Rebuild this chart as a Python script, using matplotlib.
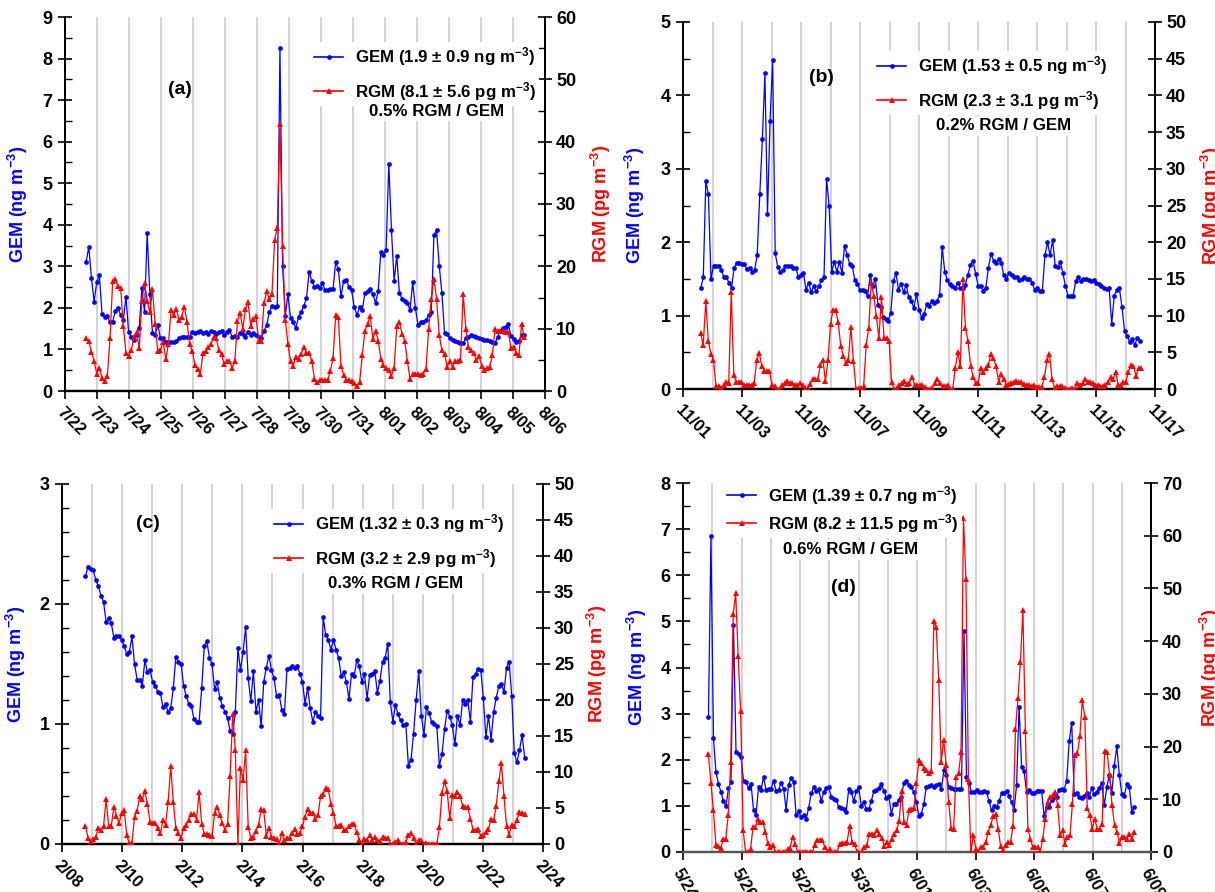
import numpy as np
import matplotlib
matplotlib.use('Agg')
import matplotlib.pyplot as plt
from matplotlib.ticker import MultipleLocator
from matplotlib.lines import Line2D

plt.rcParams['font.family'] = ['Liberation Sans', 'DejaVu Sans']
plt.rcParams['font.weight'] = 'bold'
plt.rcParams['mathtext.fontset'] = 'custom'
plt.rcParams['mathtext.rm'] = 'Liberation Sans:bold'
plt.rcParams['mathtext.bf'] = 'Liberation Sans:bold'
plt.rcParams['mathtext.default'] = 'rm'

# ---------------- data ----------------
# panel (a): 7/22 - 8/06
xlabels_a = ['7/22', '7/23', '7/24', '7/25', '7/26', '7/27', '7/28', '7/29', '7/30', '7/31',
             '8/01', '8/02', '8/03', '8/04', '8/05', '8/06']
span_a = (0.66, 14.35)
gem_a = [3.1, 3.47, 2.73, 2.15, 2.62, 2.78, 1.85, 1.78, 1.8, 1.65,
         1.67, 1.93, 2.0, 1.83, 1.7, 2.27, 1.42, 1.3, 1.22, 1.35,
         1.52, 2.47, 1.9, 3.8, 2.33, 1.4, 1.35, 1.58, 1.27, 1.27,
         1.17, 1.17, 1.17, 1.17, 1.2, 1.27, 1.29, 1.3, 1.3, 1.3,
         1.42, 1.4, 1.42, 1.45, 1.4, 1.42, 1.38, 1.45, 1.42, 1.38,
         1.42, 1.45, 1.35, 1.42, 1.47, 1.3, 1.33, 1.3, 1.4, 1.37,
         1.3, 1.42, 1.35, 1.4, 1.35, 1.3, 1.27, 1.45, 1.58, 1.9,
         2.05, 2.02, 2.05, 8.25, 3.02, 1.8, 2.33, 1.75, 1.65, 1.52,
         1.78, 1.9, 2.05, 2.23, 2.87, 2.65, 2.5, 2.52, 2.48, 2.6,
         2.42, 2.42, 2.45, 2.45, 3.1, 2.93, 2.28, 2.65, 2.68, 2.5,
         2.42, 2.02, 1.83, 2.02, 1.95, 2.35, 2.4, 2.45, 2.33, 2.12,
         2.4, 3.35, 3.27, 3.4, 5.47, 3.88, 2.65, 3.25, 2.35, 2.22,
         2.17, 2.12, 1.95, 2.62, 2.0, 1.6, 1.65, 1.67, 1.7, 1.82,
         1.9, 3.75, 3.87, 3.02, 2.35, 1.4, 1.37, 1.27, 1.22, 1.2,
         1.17, 1.15, 1.15, 1.27, 1.3, 1.35, 1.32, 1.3, 1.28, 1.25,
         1.22, 1.22, 1.2, 1.18, 1.15, 1.3, 1.45, 1.52, 1.55, 1.62,
         1.32, 1.25, 1.17, 1.2, 1.35, 1.35]
rgm_a = [8.5, 8.0, 6.3, 4.8, 2.8, 3.7, 2.1, 1.6, 2.4, 8.5,
         17.6, 17.9, 16.8, 16.6, 10.5, 6.1, 5.6, 6.5, 8.7, 9.4,
         6.9, 14.5, 17.4, 14.5, 12.6, 16.3, 10.7, 6.4, 6.5, 7.9,
         5.1, 7.5, 13.0, 12.2, 13.2, 11.4, 11.9, 13.5, 11.1, 7.5,
         6.4, 4.2, 3.6, 2.7, 6.1, 6.4, 7.0, 7.5, 8.7, 8.5,
         6.5, 5.9, 4.3, 4.8, 4.8, 3.7, 4.8, 11.2, 12.5, 10.0,
         13.1, 14.2, 10.5, 11.5, 12.0, 8.1, 8.1, 14.1, 16.0, 14.7,
         15.6, 24.3, 26.1, 42.9, 23.2, 11.4, 7.6, 4.8, 4.0, 5.5,
         5.2, 6.0, 7.1, 6.1, 6.1, 4.8, 2.0, 1.4, 1.7, 1.8,
         1.8, 1.8, 3.2, 5.3, 12.2, 11.8, 4.0, 2.6, 1.8, 1.8,
         1.6, 1.3, 0.8, 1.4, 5.7, 9.6, 10.8, 12.0, 8.4, 9.7,
         8.1, 5.2, 4.1, 3.7, 3.3, 2.4, 3.7, 10.4, 11.0, 9.2,
         8.1, 4.8, 1.9, 2.8, 2.8, 2.8, 2.6, 2.8, 3.5, 9.9,
         14.7, 18.0, 14.7, 9.0, 6.5, 5.9, 3.9, 4.8, 3.9, 4.8,
         4.8, 4.9, 15.6, 10.0, 7.1, 6.5, 6.1, 4.9, 5.6, 4.0,
         3.3, 3.7, 3.9, 5.7, 9.9, 9.6, 9.6, 9.6, 9.5, 9.4,
         6.9, 7.1, 6.1, 5.7, 10.7, 8.7]

# panel (b): 11/01 - 11/17
xlabels_b = ['11/01', '11/03', '11/05', '11/07', '11/09', '11/11', '11/13', '11/15', '11/17']
span_b_gem = (0.6, 15.49)
span_b_rgm = (0.6, 15.53)
gem_b = [1.37, 1.52, 2.83, 2.65, 1.5, 1.68, 1.68, 1.68, 1.62, 1.53,
         1.52, 1.45, 1.38, 1.65, 1.72, 1.72, 1.7, 1.7, 1.63, 1.65,
         1.6, 1.62, 1.83, 2.65, 3.4, 4.3, 2.38, 3.65, 4.48, 1.85,
         1.66, 1.6, 1.62, 1.67, 1.67, 1.68, 1.65, 1.65, 1.53, 1.55,
         1.58, 1.35, 1.45, 1.32, 1.4, 1.33, 1.4, 1.48, 1.52, 2.86,
         2.5, 1.6, 1.73, 1.6, 1.73, 1.58, 1.95, 1.83, 1.7, 1.68,
         1.48, 1.43, 1.35, 1.35, 1.33, 1.27, 1.55, 1.4, 1.5, 1.15,
         1.12, 0.98, 0.96, 0.93, 1.04, 1.47, 1.58, 1.35, 1.43, 1.32,
         1.42, 1.25, 1.2, 1.1, 1.3, 1.08, 0.97, 1.02, 1.16, 1.13,
         1.2, 1.17, 1.2, 1.28, 1.94, 1.6, 1.48, 1.43, 1.4, 1.37,
         1.45, 1.37, 1.37, 1.42, 1.55, 1.69, 1.75, 1.57, 1.41, 1.4,
         1.34, 1.38, 1.65, 1.84, 1.75, 1.72, 1.77, 1.72, 1.55, 1.5,
         1.58, 1.55, 1.53, 1.53, 1.48, 1.5, 1.52, 1.5, 1.5, 1.45,
         1.35, 1.37, 1.33, 1.33, 1.82, 2.0, 1.82, 2.03, 1.68, 1.66,
         1.73, 1.58, 1.4, 1.27, 1.27, 1.27, 1.47, 1.52, 1.47, 1.5,
         1.5, 1.48, 1.47, 1.48, 1.45, 1.43, 1.4, 1.38, 1.36, 1.37,
         0.89, 1.27, 1.35, 1.37, 1.12, 0.79, 0.72, 0.64, 0.68, 0.6,
         0.7, 0.66]
rgm_b = [7.6, 6.0, 12.0, 6.5, 4.8, 4.0, 0.4, 0.4, 0.1, 0.6,
         1.0, 0.8, 13.2, 1.9, 1.0, 1.0, 1.0, 0.6, 0.6, 0.6,
         0.6, 0.8, 3.9, 4.9, 3.1, 2.5, 2.5, 2.5, 0.5, 0.4,
         0.0, 0.0, 0.5, 0.8, 1.1, 0.8, 0.8, 0.6, 0.5, 0.8,
         0.6, 0.1, 0.1, 0.7, 1.3, 1.3, 1.3, 3.3, 4.0, 1.1,
         3.9, 8.9, 10.8, 10.8, 9.1, 5.9, 4.5, 3.6, 4.0, 8.4,
         3.8, 0.0, 0.2, 0.1, 0.4, 6.0, 8.3, 14.5, 12.7, 9.9,
         7.0, 12.5, 7.0, 7.0, 6.6, 0.9, 0.0, 0.1, 0.6, 0.8,
         1.1, 0.7, 0.8, 1.7, 0.6, 0.5, 0.6, 0.5, 0.3, 0.0,
         0.0, 0.2, 0.8, 1.4, 0.8, 0.4, 0.4, 0.6, 0.0, 0.0,
         2.9, 5.0, 3.1, 15.0, 8.3, 6.5, 3.2, 1.7, 0.8, 0.8,
         2.9, 2.3, 2.9, 3.3, 4.8, 4.2, 3.1, 1.0, 2.0, 1.3,
         0.6, 0.7, 0.8, 1.0, 1.1, 1.0, 0.9, 0.7, 0.6, 0.6,
         0.4, 0.5, 0.3, 0.3, 0.3, 1.6, 3.9, 4.8, 1.4, 0.1,
         0.4, 0.4, 0.4, 0.2, 0.0, 0.0, 0.1, 0.0, 0.8, 0.6,
         0.8, 1.3, 1.0, 1.0, 0.8, 0.5, 0.6, 0.4, 0.4, 0.5,
         0.9, 1.7, 1.3, 2.3, 0.5, 0.6, 0.9, 1.0, 2.3, 3.3,
         3.1, 1.8, 2.9, 2.8]

# panel (c): 2/08 - 2/24
xlabels_c = ['2/08', '2/10', '2/12', '2/14', '2/16', '2/18', '2/20', '2/22', '2/24']
span_c = (0.78, 15.39)
gem_c = [2.23, 2.31, 2.29, 2.28, 2.2, 2.15, 2.07, 2.02, 1.85, 1.88,
         1.84, 1.72, 1.73, 1.73, 1.7, 1.65, 1.58, 1.6, 1.73, 1.5,
         1.37, 1.37, 1.32, 1.53, 1.43, 1.45, 1.35, 1.32, 1.27, 1.26,
         1.14, 1.17, 1.1, 1.13, 1.3, 1.56, 1.52, 1.5, 1.32, 1.23,
         1.17, 1.15, 1.04, 1.02, 1.02, 1.3, 1.65, 1.69, 1.55, 1.5,
         1.29, 1.35, 1.22, 1.15, 1.1, 1.05, 0.94, 0.92, 1.1, 1.63,
         1.45, 1.6, 1.81, 1.38, 1.19, 1.44, 1.1, 1.2, 0.98, 1.35,
         1.47, 1.57, 1.45, 1.38, 1.23, 1.24, 1.12, 1.08, 1.46, 1.47,
         1.48, 1.47, 1.48, 1.42, 1.35, 1.17, 1.3, 1.13, 1.02, 1.1,
         1.07, 1.05, 1.89, 1.74, 1.7, 1.62, 1.7, 1.62, 1.55, 1.4,
         1.43, 1.35, 1.21, 1.42, 1.4, 1.53, 1.48, 1.35, 1.42, 1.21,
         1.41, 1.42, 1.44, 1.26, 1.36, 1.52, 1.55, 1.67, 1.18, 1.02,
         1.16, 1.08, 1.03, 0.99, 1.0, 0.65, 0.7, 0.92, 1.2, 1.44,
         1.07, 0.91, 1.14, 1.09, 1.02, 1.0, 0.98, 0.65, 0.75, 0.96,
         1.11, 1.06, 0.99, 0.83, 1.07, 0.99, 1.2, 1.17, 1.2, 1.02,
         1.39, 1.42, 1.46, 1.45, 1.22, 0.89, 1.07, 0.87, 1.1, 1.22,
         1.32, 1.33, 1.27, 1.47, 1.52, 1.23, 0.76, 0.68, 0.78, 0.91,
         0.72]
rgm_c = [2.5, 0.9, 0.4, 0.7, 1.0, 2.2, 1.9, 2.5, 6.2, 2.5,
         2.5, 5.2, 3.9, 2.9, 4.3, 4.7, 1.2, 0.1, 0.2, 3.8,
         4.6, 6.6, 6.2, 7.3, 5.5, 3.1, 2.9, 2.9, 2.2, 1.5,
         3.3, 2.7, 5.8, 10.8, 5.8, 2.2, 1.5, 0.8, 2.2, 2.7,
         3.3, 4.2, 4.2, 3.4, 7.2, 2.8, 1.4, 1.4, 1.3, 1.1,
         4.3, 5.1, 4.0, 2.9, 2.0, 2.8, 9.5, 18.1, 13.1, 0.0,
         10.6, 8.9, 13.0, 2.3, 0.9, 1.0, 1.8, 2.7, 4.8, 4.7,
         1.1, 2.2, 1.0, 0.9, 0.7, 0.0, 1.5, 0.5, 0.8, 0.9,
         1.5, 2.1, 1.4, 1.5, 2.5, 3.8, 4.9, 4.3, 4.3, 3.5,
         4.0, 6.6, 6.9, 7.8, 7.6, 5.5, 4.3, 2.5, 2.5, 2.7,
         2.0, 2.0, 2.5, 2.8, 2.8, 1.6, 0.6, 0.0, 0.7, 0.6,
         1.2, 0.6, 1.0, 0.6, 0.4, 1.0, 0.9, 0.9, 0.0, 0.0,
         0.3, 0.5, 0.0, 0.0, 0.3, 1.2, 1.5, 0.9, 0.0, 0.6,
         0.5, 0.0, 0.2, 0.0, 0.0, 0.0, 0.0, 2.3, 7.1, 8.7,
         7.3, 3.6, 6.8, 6.6, 7.2, 6.6, 5.3, 5.2, 5.1, 3.5,
         2.0, 2.0, 2.1, 1.1, 1.3, 1.7, 2.1, 3.5, 3.3, 5.3,
         8.7, 11.2, 6.6, 2.5, 1.3, 2.7, 2.5, 3.4, 4.4, 4.3,
         4.2]

# panel (d): 5/24 - 6/09
xlabels_d = ['5/24', '5/26', '5/28', '5/30', '6/01', '6/03', '6/05', '6/07', '6/09']
span_d = (0.87, 15.43)
gem_d = [2.92, 6.85, 2.47, 1.73, 1.48, 1.3, 1.1, 0.99, 1.38, 1.52,
         4.93, 2.17, 2.12, 2.05, 1.55, 1.52, 1.39, 1.48, 0.9, 0.8,
         1.42, 1.35, 1.62, 1.35, 1.37, 1.37, 1.55, 1.32, 1.35, 1.5,
         1.37, 0.92, 1.46, 1.6, 1.52, 0.8, 0.88, 0.75, 0.8, 0.72,
         0.95, 1.27, 1.4, 1.32, 1.37, 1.1, 1.3, 1.38, 1.4, 1.2,
         1.15, 1.13, 0.97, 0.95, 0.93, 0.87, 1.37, 1.3, 1.1, 1.32,
         1.4, 1.0, 1.08, 0.93, 0.93, 1.1, 1.32, 1.35, 1.38, 1.48,
         1.33, 1.18, 1.22, 0.83, 1.03, 1.05, 1.12, 1.2, 1.5, 1.53,
         1.45, 1.4, 1.3, 1.08, 0.78, 0.83, 1.05, 1.42, 1.43, 1.45,
         1.42, 1.45, 1.47, 1.37, 1.78, 1.67, 1.4, 1.38, 1.37, 1.37,
         1.37, 1.37, 4.8, 1.62, 1.5, 1.3, 1.3, 1.35, 1.3, 1.3,
         1.32, 1.3, 1.1, 0.9, 1.0, 0.98, 1.1, 1.27, 1.28, 1.33,
         1.22, 1.08, 0.9, 1.45, 3.15, 1.85, 1.75, 1.3, 1.35, 1.27,
         1.27, 1.33, 1.33, 1.32, 0.78, 0.98, 0.97, 1.12, 1.2, 1.2,
         1.35, 1.37, 1.35, 1.55, 2.4, 2.8, 1.25, 1.27, 1.2, 1.17,
         1.22, 1.27, 1.2, 1.38, 1.25, 1.3, 1.38, 1.5, 1.02, 1.4,
         1.67, 1.28, 1.87, 2.3, 1.68, 1.25, 1.22, 1.47, 1.4, 0.87,
         0.98]
rgm_d = [18.5, 13.0, 7.9, 1.4, 1.1, 0.8, 2.5, 2.5, 7.1, 17.1,
         45.1, 49.1, 37.2, 26.7, 4.1, 0.0, 0.0, 0.6, 4.7, 4.7,
         6.3, 5.6, 5.6, 3.8, 1.7, 0.9, 1.4, 0.0, 0.0, 0.0,
         0.0, 0.0, 0.6, 0.8, 2.8, 1.6, 0.0, 0.0, 0.0, 0.0,
         0.0, 0.0, 0.0, 1.4, 2.3, 2.3, 2.2, 0.9, 0.0, 0.6,
         0.0, 0.0, 0.0, 1.6, 1.7, 1.7, 1.9, 4.9, 1.9, 1.6,
         0.0, 0.0, 0.0, 0.9, 1.4, 3.5, 3.5, 3.3, 4.1, 3.5,
         2.7, 1.1, 1.9, 1.3, 2.5, 3.5, 4.2, 5.8, 11.5, 5.6,
         5.2, 7.9, 8.2, 8.4, 13.0, 17.4, 16.8, 16.0, 15.5, 15.0,
         15.4, 43.9, 42.6, 32.6, 17.1, 21.3, 16.5, 9.5, 4.6, 4.4,
         14.2, 14.9, 18.9, 63.3, 51.7, 13.8, 0.0, 3.2, 0.6, 0.0,
         0.9, 0.9, 1.9, 3.8, 5.1, 6.8, 7.3, 4.4, 1.1, 0.3,
         1.4, 1.9, 1.9, 4.9, 23.3, 29.2, 36.1, 46.0, 22.9, 4.4,
         2.5, 0.9, 0.9, 0.9, 0.0, 2.5, 6.2, 9.5, 10.4, 10.8,
         11.4, 9.0, 3.2, 4.1, 1.6, 2.8, 3.2, 9.2, 18.4, 18.7,
         22.0, 28.8, 25.6, 8.4, 7.0, 4.4, 6.3, 4.4, 4.4, 5.4,
         19.1, 19.0, 14.6, 8.9, 5.1, 3.8, 1.7, 2.8, 2.8, 2.5,
         3.5, 2.5, 3.8]

legend_gem = ['GEM (1.9 ± 0.9 ng m$^{-3}$)', 'GEM (1.53 ± 0.5 ng m$^{-3}$)',
              'GEM (1.32 ± 0.3 ng m$^{-3}$)', 'GEM (1.39 ± 0.7 ng m$^{-3}$)']
legend_rgm = ['RGM (8.1 ± 5.6 pg m$^{-3}$)', 'RGM (2.3 ± 3.1 pg m$^{-3}$)',
              'RGM (3.2 ± 2.9 pg m$^{-3}$)', 'RGM (8.2 ± 11.5 pg m$^{-3}$)']
ratios = ['0.5% RGM / GEM', '0.2% RGM / GEM', '0.3% RGM / GEM', '0.6% RGM / GEM']
tags = ['(a)', '(b)', '(c)', '(d)']

# ---------------- layout ----------------
W, H = 1215, 892
fig = plt.figure(figsize=(W / 100, H / 100), dpi=100)

def rect(l, r, t, b):
    return [l / W, 1 - b / H, (r - l) / W, (b - t) / H]

# ylabel centres in pixels (left label, right label)
panels = [
    dict(rect=rect(65, 545, 17, 391), ndays=15, lstep=1, xl=xlabels_a,
         gem=gem_a, rgm=rgm_a, sg=span_a, sr=span_a,
         gl=(0, 9, 1, 0.5), rl=(0, 60, 10, 5), rot=-45,
         leg=(311, 74, 0.7), ratio=(437, 111), tag=(180, 89),
         ylab=(21, 598), bcol='black'),
    dict(rect=rect(683, 1155, 22, 389), ndays=16, lstep=2, xl=xlabels_b,
         gem=gem_b, rgm=rgm_b, sg=span_b_gem, sr=span_b_rgm,
         gl=(0, 5, 1, 0.5), rl=(0, 50, 5, None), rot=-45,
         leg=(874, 83, 0.7), ratio=(1004, 126), tag=(821, 77),
         ylab=(638, 1208), bcol='black'),
    dict(rect=rect(62, 543, 484, 844), ndays=16, lstep=2, xl=xlabels_c,
         gem=gem_c, rgm=rgm_c, sg=span_c, sr=span_c,
         gl=(0, 3, 1, 0.2), rl=(0, 50, 5, None), rot=-45,
         leg=(271, 541, 0.7), ratio=(396, 584), tag=(148, 524),
         ylab=(19, 594), bcol='black'),
    dict(rect=rect(683, 1151, 483, 852), ndays=16, lstep=2, xl=xlabels_d,
         gem=gem_d, rgm=rgm_d, sg=span_d, sr=span_d,
         gl=(0, 8, 1, 0.5), rl=(0, 70, 10, None), rot=-60,
         leg=(724, 509.5, 0.3), ratio=(851, 550), tag=(843, 588),
         ylab=(640, 1207), bcol='#555555'),
]

BLUE = '#0000ff'
RED = '#ff0000'
FS = 13
LAB_HALF = 9  # half the height of the rotated axis label, px

for i, p in enumerate(panels):
    ax1 = fig.add_axes(p['rect'])
    ax2 = ax1.twinx()
    nd = p['ndays']
    left_px = p['rect'][0] * W
    width_px = p['rect'][2] * W

    tg = np.linspace(p['sg'][0], p['sg'][1], len(p['gem']))
    tr = np.linspace(p['sr'][0], p['sr'][1], len(p['rgm']))

    for d in range(1, nd):
        ax1.axvline(d, color='#c8c8c8', lw=1.1, zorder=0)

    ax1.plot(tg, p['gem'], '-o', color=BLUE, lw=0.9, ms=3.4, mew=0, zorder=3)
    ax2.plot(tr, p['rgm'], '-^', color=RED, lw=0.9, ms=4.3, mew=0, zorder=3)

    ax1.set_xlim(0, nd)
    g0, g1, gmaj, gmin = p['gl']
    r0, r1, rmaj, rmin = p['rl']
    ax1.set_ylim(g0, g1)
    ax2.set_ylim(r0, r1)
    ax1.yaxis.set_major_locator(MultipleLocator(gmaj))
    ax1.yaxis.set_minor_locator(MultipleLocator(gmin))
    ax2.yaxis.set_major_locator(MultipleLocator(rmaj))
    if rmin:
        ax2.yaxis.set_minor_locator(MultipleLocator(rmin))

    xt = np.arange(0, nd + 1, p['lstep'])
    ax1.set_xticks(xt)
    ax1.set_xticklabels(p['xl'])
    for lab in ax1.get_xticklabels():
        lab.set_rotation(p['rot'])
        lab.set_ha('left')
        lab.set_va('top')
        lab.set_rotation_mode('anchor')
        lab.set_fontsize(12)
        lab.set_fontweight('bold')

    for ax in (ax1, ax2):
        ax.spines['top'].set_visible(False)
        for s in ('left', 'right'):
            ax.spines[s].set_linewidth(1.3)
        ax.spines['bottom'].set_linewidth(1.6)
        ax.spines['bottom'].set_color(p['bcol'])
        ax.tick_params(axis='y', which='major', direction='inout', length=10, width=1.2,
                       labelsize=FS)
        ax.tick_params(axis='y', which='minor', direction='in', length=5, width=1.0)
    ax1.tick_params(axis='x', which='major', direction='out', length=6, width=1.2, pad=4,
                    top=False)
    ax1.tick_params(axis='y', pad=4)
    ax2.tick_params(axis='y', pad=3)

    ax1.set_ylabel('GEM (ng m$^{-3}$)', color=BLUE, fontsize=13, fontweight='bold')
    ax2.set_ylabel('RGM (pg m$^{-3}$)', color=RED, fontsize=13, fontweight='bold',
                   rotation=90)
    lxp, rxp = p['ylab']
    ax1.yaxis.set_label_coords((lxp + LAB_HALF - left_px) / width_px, 0.5)
    ax2.yaxis.set_label_coords((rxp - LAB_HALF - left_px) / width_px, 0.5)

    hg = Line2D([], [], color=BLUE, marker='o', lw=1.2, ms=3.4, mew=0)
    hr = Line2D([], [], color=RED, marker='^', lw=1.2, ms=4.3, mew=0)
    lx, ly, ls = p['leg']
    ax2.legend([hg, hr], [legend_gem[i], legend_rgm[i]], loc='center left',
               bbox_to_anchor=(lx / W, 1 - ly / H), bbox_transform=fig.transFigure,
               frameon=True, facecolor='white', edgecolor='none', framealpha=1,
               fancybox=False, handlelength=1.7, handletextpad=0.7,
               labelspacing=ls, borderpad=0.2, borderaxespad=0, numpoints=1,
               prop={'weight': 'bold', 'size': 12.2})

    cx, cy = p['ratio']
    fig.text(cx / W, 1 - cy / H, ratios[i], ha='center', va='center', fontsize=12.2,
             fontweight='bold', bbox=dict(facecolor='white', edgecolor='none', pad=2))
    tx, ty = p['tag']
    fig.text(tx / W, 1 - ty / H, tags[i], ha='center', va='center', fontsize=14,
             fontweight='bold')

fig.savefig('out.png', dpi=100)
